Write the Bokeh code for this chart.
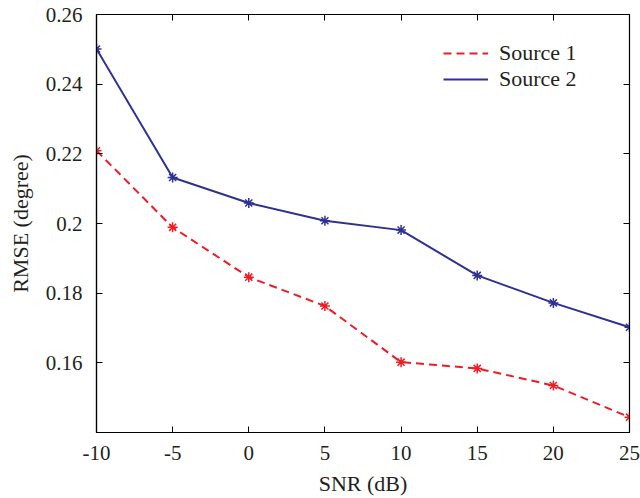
from bokeh.plotting import figure
from bokeh.models import Range1d, FixedTicker, LinearAxis, Legend, LegendItem, CustomLabelingPolicy
from bokeh.embed import file_html
from bokeh.resources import INLINE

snr = [-10, -5, 0, 5, 10, 15, 20, 25]
source1 = [0.2209, 0.1989, 0.1846, 0.1763, 0.1602, 0.1584, 0.1535, 0.1444]
source2 = [0.2501, 0.2132, 0.2059, 0.2008, 0.1981, 0.1851, 0.1772, 0.1702]
x_ticks = [-10, -5, 0, 5, 10, 15, 20, 25]
x_tick_labels = ["-10", "-5", "0", "5", "10", "15", "20", "25"]
y_ticks = [0.16, 0.18, 0.2, 0.22, 0.24, 0.26]
y_tick_labels = ["0.16", "0.18", "0.2", "0.22", "0.24", "0.26"]

RED = "#EE1C25"
BLUE = "#2E3192"
FONT = "Liberation Serif"
TXT = "#231F20"

p = figure(width=640, height=498, output_backend="svg", toolbar_location=None,
           x_range=Range1d(-10, 25), y_range=Range1d(0.14, 0.26),
           min_border_left=96, min_border_top=14, min_border_right=11, min_border_bottom=66)
p.xgrid.visible = False
p.ygrid.visible = False
p.outline_line_color = "black"
p.outline_line_width = 1.2
p.background_fill_color = "white"
p.border_fill_color = "white"

for ax in (p.xaxis[0], p.yaxis[0]):
    ax.major_tick_in = 6
    ax.major_tick_out = 0
    ax.minor_tick_line_color = None
    ax.axis_line_color = "black"
    ax.axis_line_width = 1.2
    ax.major_tick_line_color = "black"
    ax.major_label_text_font = FONT
    ax.major_label_text_font_size = "21px"
    ax.major_label_text_color = TXT
    ax.axis_label_text_font = FONT
    ax.axis_label_text_font_size = "22px"
    ax.axis_label_text_font_style = "normal"
    ax.axis_label_text_color = TXT

p.xaxis[0].ticker = FixedTicker(ticks=x_ticks)
p.xaxis[0].major_label_overrides = dict(zip(x_ticks, x_tick_labels))
p.yaxis[0].ticker = FixedTicker(ticks=y_ticks)
p.yaxis[0].major_label_overrides = dict(zip(y_ticks, y_tick_labels))
p.xaxis[0].axis_label = "SNR (dB)"
p.yaxis[0].axis_label = "RMSE (degree)"
p.xaxis[0].major_label_standoff = 13
p.yaxis[0].major_label_standoff = 14
p.xaxis[0].axis_label_standoff = 8
p.yaxis[0].axis_label_standoff = 10

no_labels = CustomLabelingPolicy(code="""
for (const i of Array.from(indices)) { indices.unset(i) }
return indices
""")
top = LinearAxis(ticker=FixedTicker(ticks=x_ticks), major_tick_in=6, major_tick_out=0,
                 minor_tick_line_color=None, major_label_policy=no_labels,
                 major_label_text_font_size="1px",
                 major_label_standoff=0, axis_line_color="black")
right = LinearAxis(ticker=FixedTicker(ticks=y_ticks), major_tick_in=6, major_tick_out=0,
                   minor_tick_line_color=None, major_label_policy=no_labels,
                   major_label_text_font_size="1px",
                   major_label_standoff=0, axis_line_color="black")
p.add_layout(top, "above")
p.add_layout(right, "right")

l1 = p.line(snr, source1, line_color=RED, line_width=2, line_dash="8 5")
m1 = p.scatter(snr, source1, marker="asterisk", size=10, line_color=RED, line_width=1.5)
l2 = p.line(snr, source2, line_color=BLUE, line_width=2)
m2 = p.scatter(snr, source2, marker="asterisk", size=10, line_color=BLUE, line_width=1.5)

legend = Legend(items=[LegendItem(label="Source 1", renderers=[l1]),
                       LegendItem(label="Source 2", renderers=[l2])],
                location=(347, 340), border_line_color=None, background_fill_alpha=0,
                padding=0, margin=0, spacing=0, glyph_width=45, glyph_height=26,
                label_height=26, label_standoff=11,
                label_text_font=FONT, label_text_font_size="22px", label_text_color=TXT)
p.add_layout(legend)

open("out.html", "w").write(file_html(p, INLINE))
